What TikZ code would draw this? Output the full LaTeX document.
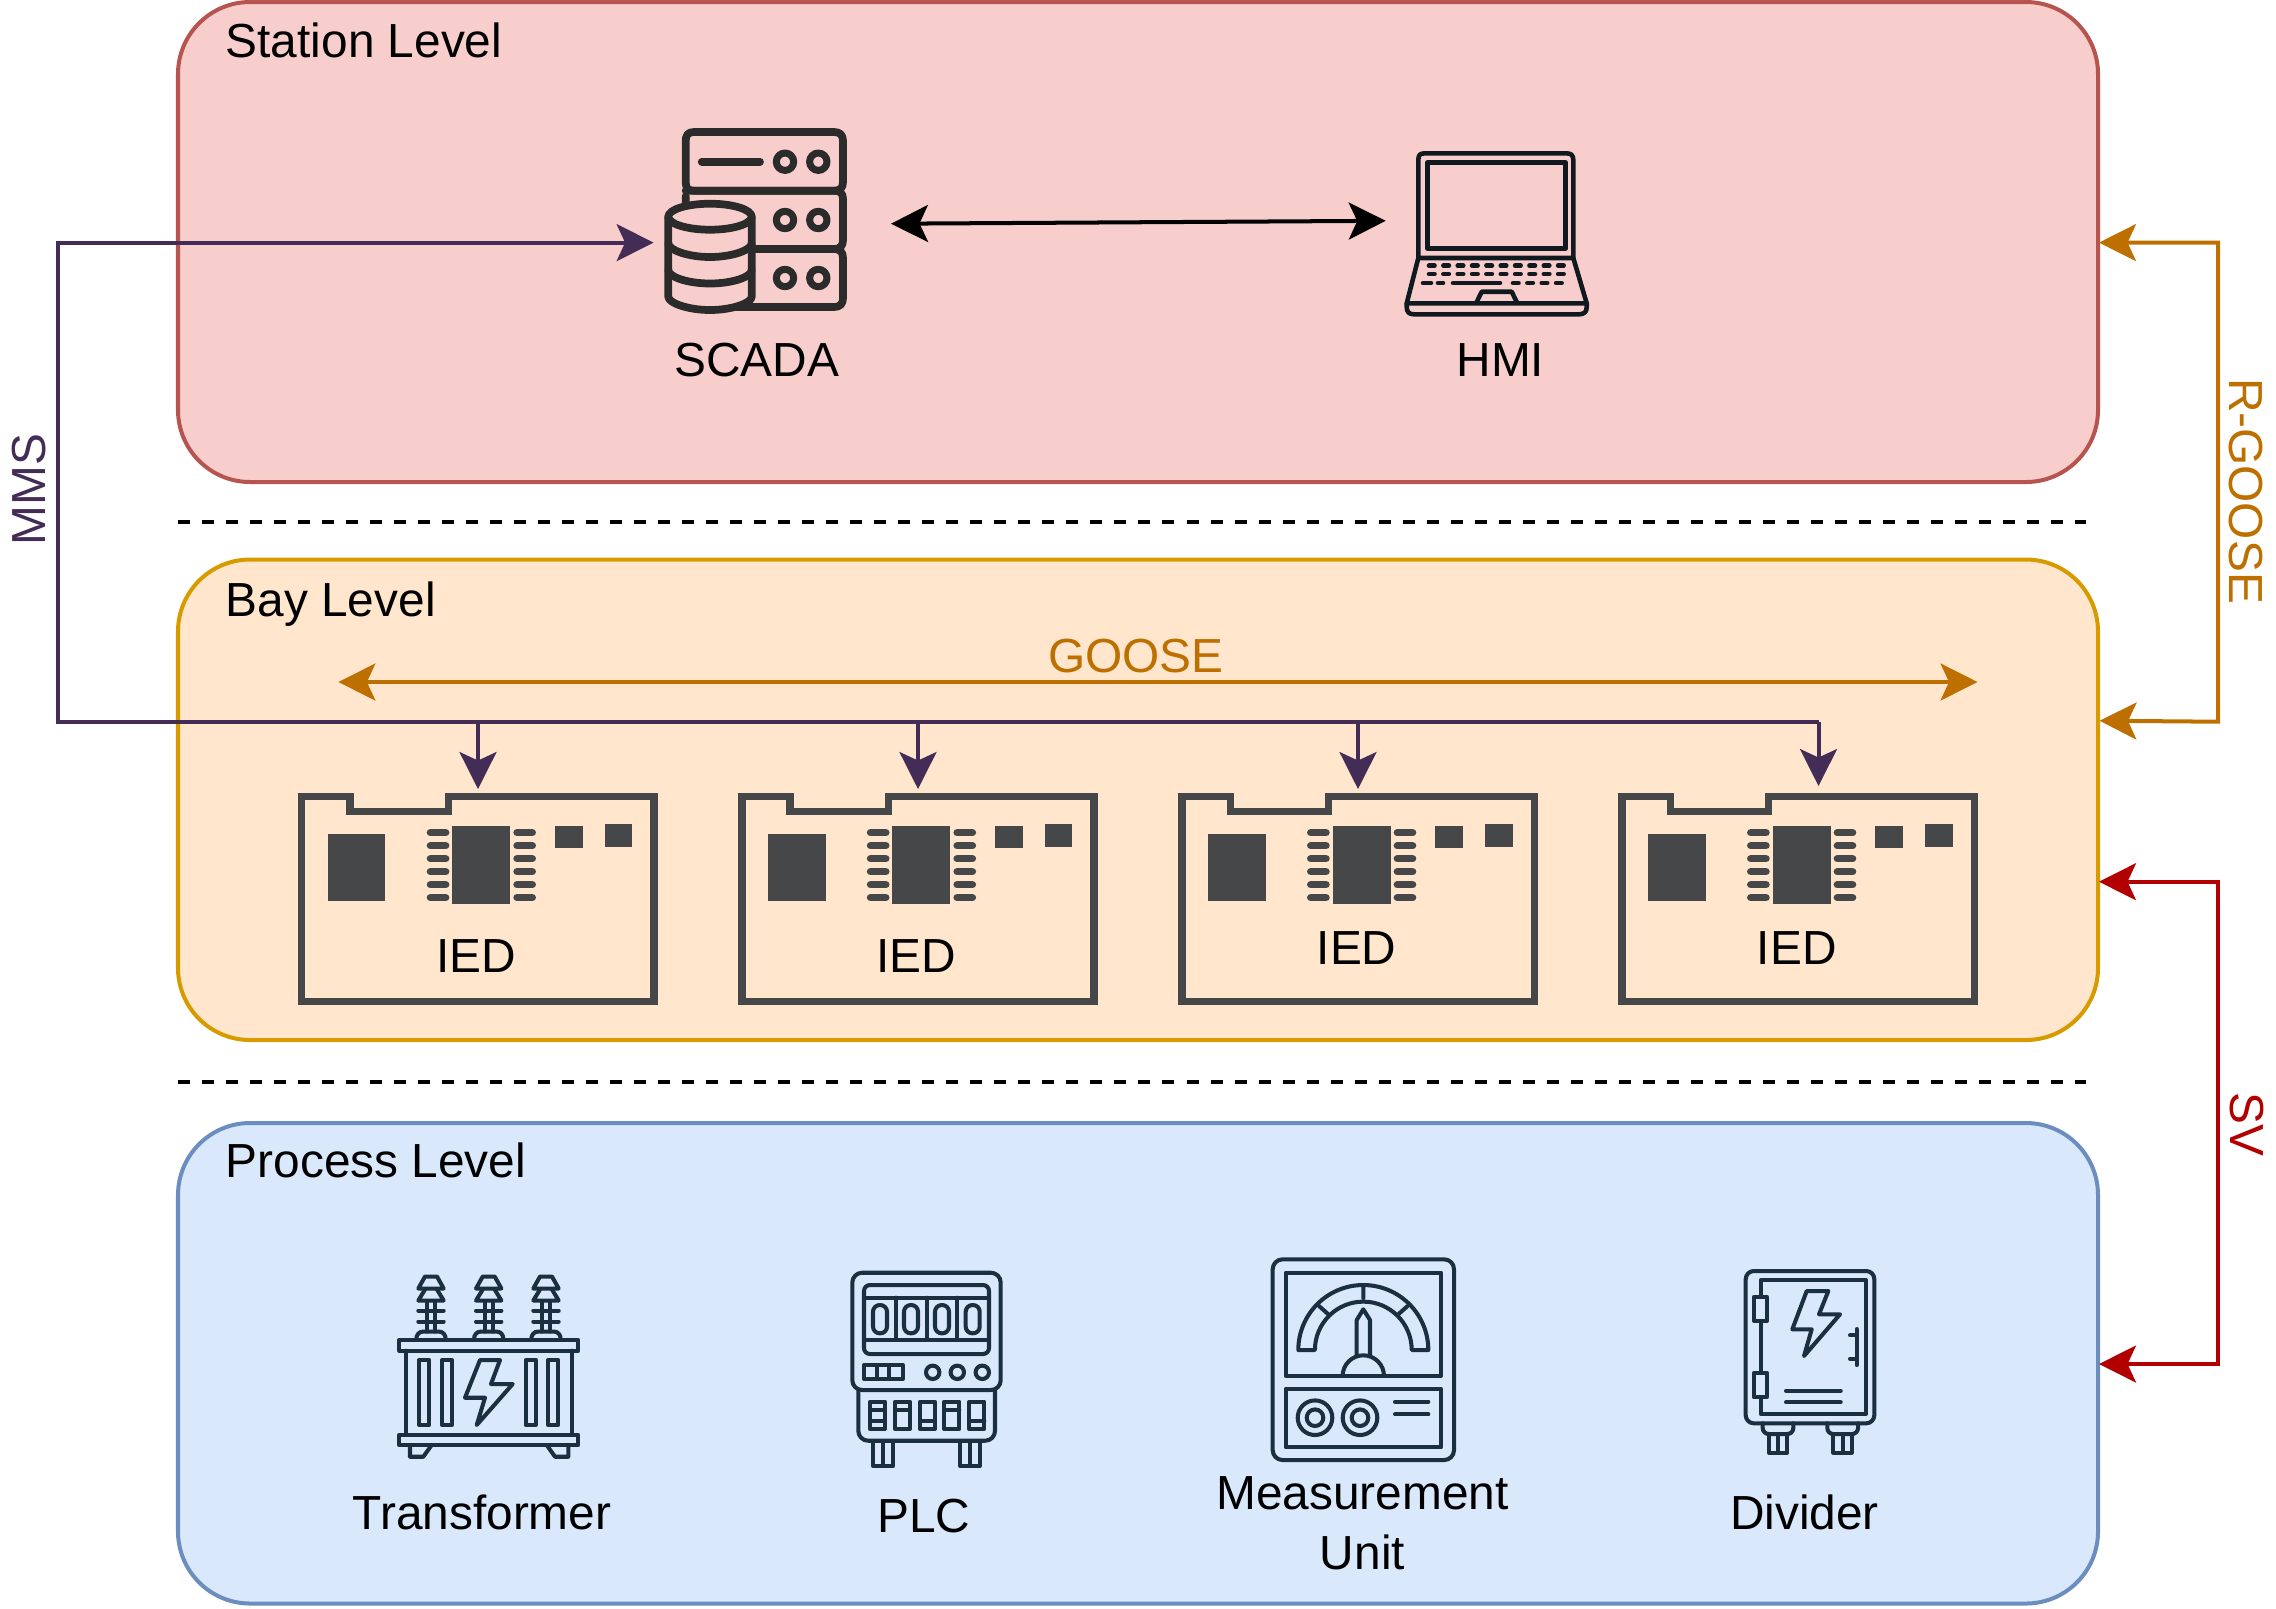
\documentclass[tikz,border=0pt]{standalone}
\usepackage{fontspec}
\setmainfont{Liberation Sans}
\usetikzlibrary{arrows.meta}
\definecolor{stationfill}{HTML}{F8CECC}
\definecolor{stationedge}{HTML}{B85450}
\definecolor{bayfill}{HTML}{FFE6CC}
\definecolor{bayedge}{HTML}{D79B00}
\definecolor{processfill}{HTML}{DAE8FC}
\definecolor{processedge}{HTML}{6C8EBF}
\definecolor{mmscolor}{HTML}{432D57}
\definecolor{goosecolor}{HTML}{BD7000}
\definecolor{svcolor}{HTML}{B20000}
\definecolor{chipcolor}{HTML}{454748}
\definecolor{scadacolor}{HTML}{2B2B2B}
\definecolor{hmicolor}{HTML}{10191F}
\definecolor{fieldcolor}{HTML}{1A2F3F}
\tikzset{
  level/.style={line width=1.14pt,rounded corners=20.5pt},
  lbl/.style={inner sep=0pt,font=\fontsize{13.6}{17}\selectfont,align=center},
  tip/.style={{Stealth[length=10.5pt,width=10.5pt,inset=2.4pt]}-{Stealth[length=10.5pt,width=10.5pt,inset=2.4pt]}},
  endtip/.style={-{Stealth[length=10.5pt,width=10.5pt,inset=2.4pt]}},
  link/.style={line width=1.14pt},
  sepline/.style={line width=1.14pt,dash pattern=on 3.414pt off 3.414pt},
  scadaline/.style={draw=scadacolor,line width=2.2pt,line join=round,line cap=round},
  hmiline/.style={draw=hmicolor,line width=1.3pt,line join=round,line cap=round},
  fieldline/.style={draw=fieldcolor,line width=1.15pt,line join=round,line cap=round},
  pics/iedcard/.style={code={
      \draw[chipcolor,line width=2.1pt] (0,0) -- (48.3,0) -- (48.3,15) -- (146.7,15) -- (146.7,0) -- (352.3,0) -- (352.3,205) -- (0,205) -- cycle;
      \fill[chipcolor] (26,37.3) rectangle (83.7,104.3);
      \fill[chipcolor] (150.6,29) rectangle (208.6,107.7);
      \fill[chipcolor] (253.3,29) rectangle (281,51.7);
      \fill[chipcolor] (303.3,27.3) rectangle (330.6,50.6);
      \draw[chipcolor,line width=2.1pt,line cap=round]
        (128.7,36) -- (144,36) (128.7,49) -- (144,49) (128.7,62) -- (144,62)
        (128.7,75) -- (144,75) (128.7,88) -- (144,88) (128.7,101) -- (144,101)
        (215.3,36) -- (230.6,36) (215.3,49) -- (230.6,49) (215.3,62) -- (230.6,62)
        (215.3,75) -- (230.6,75) (215.3,88) -- (230.6,88) (215.3,101) -- (230.6,101);
  }},
  pics/bushing/.style={code={
      \draw[fieldline] (-14.7,0) .. controls (-14.7,-5) and (-12,-8) .. (-7.5,-8) -- (7.5,-8) .. controls (12,-8) and (14.7,-5) .. (14.7,0);
      \draw[fieldline] (-4,-8) -- (-4,-38) (4,-8) -- (4,-38);
      \draw[fieldline] (-12.7,-18) -- (12.7,-18) (-12.7,-29) -- (12.7,-29);
      \draw[fieldline] (-6,-63) -- (6,-63) -- (12.7,-51) -- (-12.7,-51) -- cycle;
      \draw[fieldline] (-6,-50) -- (-12.7,-39) -- (12.7,-39) -- (6,-50);
  }},
}
\begin{document}
\begin{tikzpicture}[x=.01cm,y=-.01cm]
      \useasboundingbox (0,0) rectangle (2276,1608);
      \draw[level,draw=stationedge,fill=stationfill] (178,2) rectangle (2098,482);
      \draw[level,draw=bayedge,fill=bayfill] (178,559.5) rectangle (2098,1040);
      \draw[level,draw=processedge,fill=processfill] (178,1123) rectangle (2098,1603.5);
      \draw[sepline] (178,521.5) -- (2086,521.5);
      \draw[sepline] (178,1082) -- (2086,1082);
      \node[lbl,anchor=west] (stationtitle) at (225,40) {Station Level};
      \node[lbl,anchor=west] (baytitle) at (225,604) {Bay Level};
      \node[lbl,anchor=west] (processtitle) at (225,1160) {Process Level};
      % SCADA
      \draw[scadaline] (694,132) -- (834,132) .. controls (840,132) and (843,135) .. (843,141) -- (843,182) .. controls (843,188) and (840,190.7) .. (834,190.7) -- (694,190.7) .. controls (688,190.7) and (685.7,188) .. (685.7,182) -- (685.7,141) .. controls (685.7,135) and (688,132) .. (694,132) -- cycle;
      \draw[scadaline] (685.7,204) -- (685.7,196) (685.7,190.7) -- (834,190.7) .. controls (840,190.7) and (843,193) .. (843,199) -- (843,240) .. controls (843,246) and (840,249) .. (834,249) -- (750,249);
      \draw[scadaline] (750,249) -- (834,249) .. controls (840,249) and (843,252) .. (843,258) -- (843,298) .. controls (843,304) and (840,307) .. (834,307) -- (710,307);
      \draw[scadaline] (701.7,161.7) -- (760,161.7);
      \draw[scadaline,line width=2pt] (785,161.7) circle[radius=8.7] (818.3,161.7) circle[radius=8.7];
      \draw[scadaline,line width=2pt] (785,220) circle[radius=8.7] (818.3,220) circle[radius=8.7];
      \draw[scadaline,line width=2pt] (785,278) circle[radius=8.7] (818.3,278) circle[radius=8.7];
      \draw[scadaline,fill=stationfill] (668.3,216.7) -- (668.3,296.7) .. controls (668.3,303) and (688,310) .. (710,310) .. controls (732,310) and (751.7,303) .. (751.7,296.7) -- (751.7,216.7);
      \draw[scadaline,fill=stationfill] (710,216.7) ellipse[x radius=41.7,y radius=13];
      \draw[scadaline] (668.3,243.3) .. controls (668.3,250) and (688,257) .. (710,257) .. controls (732,257) and (751.7,250) .. (751.7,243.3);
      \draw[scadaline] (668.3,270) .. controls (668.3,277) and (688,283.5) .. (710,283.5) .. controls (732,283.5) and (751.7,277) .. (751.7,270);
      \node[lbl] (scada) at (756.7,360) {SCADA};
      % HMI
      \draw[hmiline] (1418.3,258) -- (1418.3,160) .. controls (1418.3,155) and (1420,153.3) .. (1425,153.3) -- (1566,153.3) .. controls (1571,153.3) and (1573.3,155) .. (1573.3,160) -- (1573.3,258) -- cycle;
      \draw[hmiline] (1427.3,162.7) rectangle (1565.7,248.3);
      \draw[hmiline] (1418.3,258) -- (1406.7,303.3) -- (1586.7,303.3) -- (1573.3,258);
      \draw[hmiline] (1406.7,303.3) -- (1406.7,307) .. controls (1406.7,312) and (1409,314.3) .. (1414,314.3) -- (1579,314.3) .. controls (1584,314.3) and (1586.7,312) .. (1586.7,307) -- (1586.7,303.3);
      \draw[hmiline] (1476.7,302) -- (1481.7,291.7) -- (1511.7,291.7) -- (1516.7,302);
      \draw[hmiline,dash pattern=on 1.57pt off 2.51pt] (1429,265.7) -- (1564,265.7);
      \draw[hmiline,dash pattern=on 1.57pt off 2.51pt] (1429,274) -- (1564,274);
      \draw[hmiline] (1423,283) -- (1431,283) (1438,283) -- (1443,283) (1453,283) -- (1500,283);
      \draw[hmiline,dash pattern=on 1.57pt off 2.51pt] (1513,283) -- (1570,283);
      \node[lbl] (hmi) at (1500.4,360) {HMI};
      % IEDs
      \pic (ied1) at (301.7,796.7) {iedcard};
      \pic (ied2) at (741.8,796.7) {iedcard};
      \pic (ied3) at (1182,796.7) {iedcard};
      \pic (ied4) at (1622,796.7) {iedcard};
      \node[lbl] (iedlabel1) at (476.4,955.7) {IED};
      \node[lbl] (iedlabel2) at (916.5,955.7) {IED};
      \node[lbl] (iedlabel3) at (1356.6,948.5) {IED};
      \node[lbl] (iedlabel4) at (1796.7,948.5) {IED};
      % Transformer
      \draw[fieldline] (399.3,1340) rectangle (578.3,1350.7);
      \draw[fieldline] (399.3,1435) rectangle (578.3,1445);
      \draw[fieldline] (405.7,1350.7) -- (405.7,1435) (571.7,1350.7) -- (571.7,1435);
      \draw[fieldline] (410,1445) -- (410,1456.7) -- (423.3,1456.7) -- (431.7,1445);
      \draw[fieldline] (568.3,1445) -- (568.3,1456.7) -- (555,1456.7) -- (546.7,1445);
      \draw[fieldline] (419.3,1360) rectangle (429.3,1425);
      \draw[fieldline] (442,1360) rectangle (452,1425);
      \draw[fieldline] (525.7,1360) rectangle (535.7,1425);
      \draw[fieldline] (548.3,1360) rectangle (558.3,1425);
      \draw[fieldline] (480,1360) -- (500,1360) -- (491,1384) -- (512.7,1384) -- (476.7,1425) -- (485,1397.7) -- (465,1397.7) -- cycle;
      \pic (bushing1) at (431,1339.5) {bushing};
      \pic (bushing2) at (488.7,1339.5) {bushing};
      \pic (bushing3) at (546,1339.5) {bushing};
      \node[lbl] (transformer) at (482,1512.5) {Transformer};
      % PLC
      \draw[fieldline,rounded corners=2.8pt] (852.3,1272.7) rectangle (1000.7,1390);
      \draw[fieldline,rounded corners=1.7pt] (864,1285) rectangle (989,1354);
      \draw[fieldline] (864,1297.7) -- (989,1297.7) (864,1340) -- (989,1340);
      \draw[fieldline] (895.7,1297.7) -- (895.7,1340) (926.7,1297.7) -- (926.7,1340) (957.3,1297.7) -- (957.3,1340);
      \draw[fieldline,rounded corners=1.9pt] (873,1305) rectangle (887,1333.3);
      \draw[fieldline,rounded corners=1.9pt] (904,1305) rectangle (918,1333.3);
      \draw[fieldline,rounded corners=1.9pt] (935,1305) rectangle (949,1333.3);
      \draw[fieldline,rounded corners=1.9pt] (965.7,1305) rectangle (979.7,1333.3);
      \draw[fieldline] (864,1365) rectangle (902.7,1379);
      \draw[fieldline] (877.3,1365) -- (877.3,1379) (889.3,1365) -- (889.3,1379);
      \draw[fieldline] (932.7,1372.3) circle[radius=6.7] (957.3,1372.3) circle[radius=6.7] (982.3,1372.3) circle[radius=6.7];
      \draw[fieldline,rounded corners=2.8pt] (858.3,1390) -- (858.3,1440.7) -- (995,1440.7) -- (995,1390);
      \draw[fieldline] (870,1401.7) rectangle (885,1429) (870,1421) -- (885,1421) (870,1410) -- (885,1410);
      \draw[fieldline] (895,1401.7) rectangle (910,1429) (895,1410) -- (910,1410);
      \draw[fieldline] (920,1401.7) rectangle (935,1429) (920,1421) -- (935,1421);
      \draw[fieldline] (944.3,1401.7) rectangle (959.3,1429) (944.3,1410) -- (959.3,1410);
      \draw[fieldline] (969.3,1401.7) rectangle (984.3,1429) (969.3,1421) -- (984.3,1421);
      \draw[fieldline] (873.3,1441.7) -- (873.3,1466) -- (893.3,1466) -- (893.3,1441.7) (883.3,1441.7) -- (883.3,1466);
      \draw[fieldline] (960,1441.7) -- (960,1466) -- (980,1466) -- (980,1441.7) (970,1441.7) -- (970,1466);
      \node[lbl] (plc) at (923.8,1516.4) {PLC};
      % Measurement unit
      \draw[fieldline,rounded corners=2.8pt] (1272.7,1259.3) rectangle (1454,1460);
      \draw[fieldline] (1285.7,1272.7) rectangle (1441,1376);
      \draw[fieldline] (1285.7,1388.7) rectangle (1441,1447.3);
      \draw[fieldline] (1298.3,1350) arc[start angle=180,end angle=360,radius=65] -- (1411.7,1350) arc[start angle=360,end angle=180,radius=48.4] -- cycle;
      \draw[fieldline] (1363.3,1285) -- (1363.3,1298) (1319,1306) -- (1328,1314) (1407.6,1306) -- (1398.6,1314);
      \draw[fieldline] (1356.7,1356) -- (1356.7,1320) -- (1363.3,1309.3) -- (1370,1320) -- (1370,1356);
      \draw[fieldline] (1342.6,1376) arc[start angle=180,end angle=360,radius=20.7];
      \draw[fieldline] (1315,1417.7) circle[radius=17.3] (1315,1417.7) circle[radius=8.3];
      \draw[fieldline] (1360,1417.7) circle[radius=17.3] (1360,1417.7) circle[radius=8.3];
      \draw[fieldline] (1395,1401.7) -- (1428.3,1401.7) (1395,1414.3) -- (1428.3,1414.3);
      \node[lbl] (measure) at (1362.5,1523) {Measurement\\[.2pt]Unit};
      % Divider
      \draw[fieldline,rounded corners=2.3pt] (1745.7,1271) rectangle (1874.3,1423.3);
      \draw[fieldline] (1760.7,1280) rectangle (1866,1414);
      \draw[fieldline,fill=processfill] (1754,1296.7) rectangle (1766.7,1321);
      \draw[fieldline,fill=processfill] (1754,1372.7) rectangle (1766.7,1397.3);
      \draw[fieldline] (1806.7,1291) -- (1828.3,1291) -- (1819,1314.3) -- (1840,1314.3) -- (1804,1356) -- (1811.7,1329.3) -- (1792.3,1329.3) -- cycle;
      \draw[fieldline] (1856.7,1329) -- (1856.7,1365) (1850,1335.3) -- (1856.7,1335.3) (1850,1358.7) -- (1856.7,1358.7);
      \draw[fieldline] (1786,1390.7) -- (1840.7,1390.7) (1786,1402.3) -- (1840.7,1402.3);
      \draw[fieldline,rounded corners=1.7pt] (1762.7,1423.3) -- (1762.7,1434) -- (1793.3,1434) -- (1793.3,1423.3);
      \draw[fieldline,rounded corners=1.7pt] (1827.3,1423.3) -- (1827.3,1434) -- (1858,1434) -- (1858,1423.3);
      \draw[fieldline] (1769,1435) -- (1769,1452.7) -- (1787.3,1452.7) -- (1787.3,1435) (1778.3,1435) -- (1778.3,1452.7);
      \draw[fieldline] (1833.3,1435) -- (1833.3,1452.7) -- (1851.7,1452.7) -- (1851.7,1435) (1842.7,1435) -- (1842.7,1452.7);
      \node[lbl] (divider) at (1804.5,1512.5) {Divider};
      % connectors
      \coordinate (hmiport) at (1385.7,220.8);
      \coordinate (scadaright) at (891,223.7);
      \coordinate (scadaleft) at (653.6,242.6);
      \coordinate (mmstop) at (58,242.6);
      \coordinate (mmsbottom) at (58,722);
      \coordinate (tap1) at (478,722);
      \coordinate (tap2) at (918,722);
      \coordinate (tap3) at (1358,722);
      \coordinate (tap4) at (1818.5,722);
      \coordinate (iedport1) at (478,789);
      \coordinate (iedport2) at (918,789);
      \coordinate (iedport3) at (1358,789);
      \coordinate (iedport4) at (1818.5,786);
      \coordinate (gooseleft) at (338.4,682);
      \coordinate (gooseright) at (1977.5,682);
      \coordinate (stationport) at (2099,242.6);
      \coordinate (rgoosetop) at (2218,242.6);
      \coordinate (rgoosebottom) at (2218,721.7);
      \coordinate (bayport) at (2099.5,720.7);
      \coordinate (bayportsv) at (2099,881.7);
      \coordinate (svtop) at (2218,881.7);
      \coordinate (svbottom) at (2218,1364);
      \coordinate (processport) at (2099,1364);
      \draw[tip,link,black] (scadaright) -- (hmiport);
      \draw[endtip,link,mmscolor] (tap4) -- (mmsbottom) -- (mmstop) -- (scadaleft);
      \draw[endtip,link,mmscolor] (tap1) -- (iedport1);
      \draw[endtip,link,mmscolor] (tap2) -- (iedport2);
      \draw[endtip,link,mmscolor] (tap3) -- (iedport3);
      \draw[endtip,link,mmscolor] (tap4) -- (iedport4);
      \draw[tip,link,goosecolor] (gooseleft) -- (gooseright);
      \draw[tip,link,goosecolor] (stationport) -- (rgoosetop) -- (rgoosebottom) -- (bayport);
      \draw[tip,link,svcolor] (bayportsv) -- (svtop) -- (svbottom) -- (processport);
      \node[lbl,text=goosecolor] (goose) at (1136,656.5) {GOOSE};
      \node[lbl,text=mmscolor,rotate=90] (mms) at (29,489.5) {MMS};
      \node[lbl,text=goosecolor,rotate=-90] (rgoose) at (2245.5,491) {R-GOOSE};
      \node[lbl,text=svcolor,rotate=-90] (sv) at (2247,1124) {SV};
\end{tikzpicture}
\end{document}
